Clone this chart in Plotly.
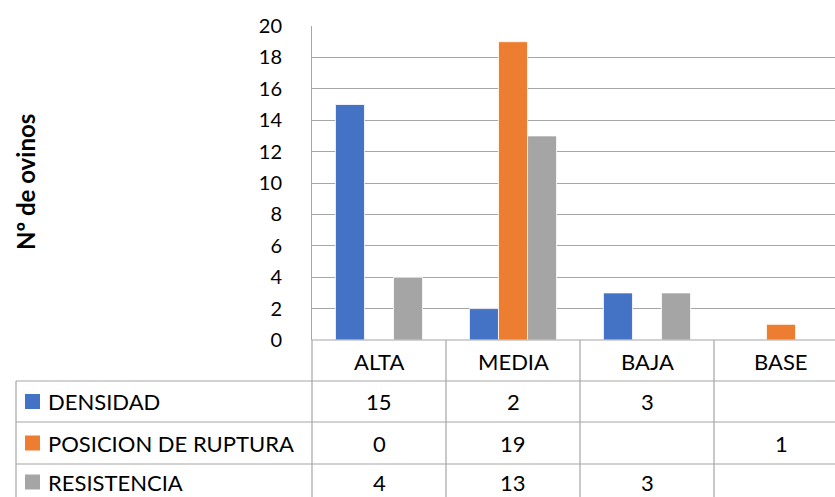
import plotly.graph_objects as go

# ---- data ----
categories = ["ALTA", "MEDIA", "BAJA", "BASE"]
series_names = ["DENSIDAD", "POSICION DE RUPTURA", "RESISTENCIA"]
densidad = [15, 2, 3, None]
posicion = [0, 19, None, 1]
resistencia = [4, 13, 3, None]
y_ticks = list(range(0, 21, 2))
y_title = "Nº de ovinos"

colors = ["#4472C4", "#ED7D31", "#A5A5A5"]
series_values = [densidad, posicion, resistencia]

# ---- geometry (pixels) ----
W, H = 835, 497
PLOT_L, PLOT_T, PLOT_B = 312, 26, 340
PLOT_R = W
CAT_W = 134
GRID = "#A6A6A6"
FONT = "Lato, Carlito, Calibri, sans-serif"
TXT = 22


def px(x):
    return (x - PLOT_L) / (PLOT_R - PLOT_L)


def py(y):
    return (PLOT_B - y) / (PLOT_B - PLOT_T)


fig = go.Figure()
for name, vals, col in zip(series_names, series_values, colors):
    fig.add_trace(go.Bar(
        x=categories, y=vals, name=name,
        marker=dict(color=col, line=dict(color="white", width=0.8)),
    ))

x_max = -0.5 + (PLOT_R - PLOT_L) / CAT_W

fig.update_layout(
    width=W, height=H,
    margin=dict(l=PLOT_L, r=0, t=PLOT_T, b=H - PLOT_B, pad=0),
    paper_bgcolor="white", plot_bgcolor="white",
    barmode="group", bargap=0.35, bargroupgap=0,
    showlegend=False,
    font=dict(family=FONT, color="#000000"),
    xaxis=dict(
        type="category", range=[-0.5, x_max], showticklabels=False,
        showgrid=False, zeroline=False, showline=False, ticks="",
        fixedrange=True,
    ),
    yaxis=dict(
        range=[0, 20], tickvals=y_ticks, showgrid=True, gridcolor=GRID,
        gridwidth=1, zeroline=False, showline=True, linecolor=GRID,
        linewidth=1, ticks="", ticklabelstandoff=25,
        tickfont=dict(size=20, color="#000000"), fixedrange=True,
    ),
)

shapes = []
annotations = []


def hline(x0, x1, y):
    shapes.append(dict(type="line", xref="paper", yref="paper",
                       x0=px(x0), x1=px(x1), y0=py(y), y1=py(y),
                       line=dict(color=GRID, width=1.2)))


def vline(x, y0, y1):
    shapes.append(dict(type="line", xref="paper", yref="paper",
                       x0=px(x), x1=px(x), y0=py(y0), y1=py(y1),
                       line=dict(color=GRID, width=1.2)))


# data table grid
row_tops = [381, 422, 464, 506]
row_text_y = [401.5, 443, 482]
TABLE_L = 16
BOTTOM = 510
hline(PLOT_L, W + 5, PLOT_B)
for yy in row_tops:
    hline(TABLE_L, W + 5, yy)
vline(TABLE_L, row_tops[0], BOTTOM)
vline(PLOT_L, PLOT_B, BOTTOM)
for i in range(1, len(categories)):
    vline(PLOT_L + i * CAT_W, PLOT_B, BOTTOM)

cat_centers = [PLOT_L + (i + 0.5) * CAT_W for i in range(len(categories))]

# category header row
for cx, cat in zip(cat_centers, categories):
    annotations.append(dict(xref="paper", yref="paper", x=px(cx), y=py(361),
                            text=cat, showarrow=False, xanchor="center",
                            yanchor="middle", font=dict(size=TXT)))

# series rows: key, name and values
for r, (name, vals, col) in enumerate(zip(series_names, series_values, colors)):
    yc = row_text_y[r]
    shapes.append(dict(type="rect", xref="paper", yref="paper",
                       x0=px(25), x1=px(40), y0=py(yc - 7.5), y1=py(yc + 7.5),
                       fillcolor=col, line=dict(width=0)))
    annotations.append(dict(xref="paper", yref="paper", x=px(46), y=py(yc),
                            text=name, showarrow=False, xanchor="left",
                            yanchor="middle", font=dict(size=TXT)))
    for cx, v in zip(cat_centers, vals):
        if v is None:
            continue
        annotations.append(dict(xref="paper", yref="paper", x=px(cx), y=py(yc),
                                text=str(v), showarrow=False, xanchor="center",
                                yanchor="middle", font=dict(size=TXT)))

# axis title
annotations.append(dict(xref="paper", yref="paper", x=px(25), y=py(182),
                        text="<b>" + y_title + "</b>", showarrow=False,
                        textangle=-90, xanchor="center", yanchor="middle",
                        font=dict(size=24)))

fig.update_layout(shapes=shapes, annotations=annotations)
fig.write_html("out.html", config=dict(displayModeBar=False))
